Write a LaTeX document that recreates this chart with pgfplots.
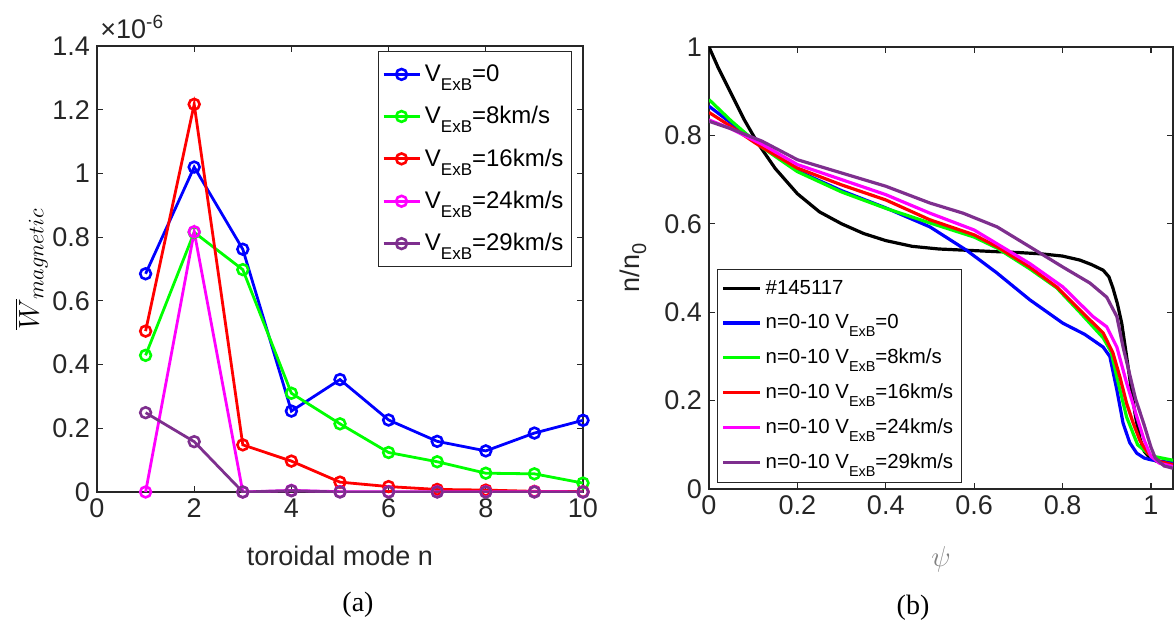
\documentclass[border=0pt]{standalone}
\usepackage{fontspec}
\setmainfont{Liberation Sans}
\newfontfamily\seriffont{Liberation Serif}
\usepackage{pgfplots}
\pgfplotsset{compat=1.18}
\usepackage{pgfplotstable}

\definecolor{mblue}{rgb}{0,0,1}
\definecolor{mgreen}{rgb}{0,1,0}
\definecolor{mred}{rgb}{1,0,0}
\definecolor{mmag}{rgb}{1,0,1}
\definecolor{mpurple}{rgb}{0.494,0.184,0.556}
\definecolor{axgray}{rgb}{0.15,0.15,0.15}

\newcommand{\subA}[1]{\raisebox{-4.5pt}{\fontsize{8.5}{8.5}\selectfont #1}}
\newcommand{\subB}[1]{\raisebox{-3.8pt}{\fontsize{7.2}{7.2}\selectfont #1}}

% panel (b) profiles
\pgfplotstableread{
x y
0 1.000
0.02 0.955
0.05 0.895
0.08 0.835
0.11 0.783
0.15 0.725
0.2 0.668
0.25 0.627
0.3 0.600
0.35 0.578
0.4 0.562
0.46 0.549
0.52 0.543
0.585 0.540
0.65 0.537
0.7 0.535
0.752 0.532
0.8 0.527
0.839 0.518
0.865 0.508
0.892 0.495
0.905 0.480
0.914 0.455
0.924 0.420
0.934 0.375
0.945 0.300
0.955 0.230
0.965 0.165
0.975 0.115
0.985 0.085
1.0 0.068
1.02 0.060
1.05 0.055
}\tblack
\pgfplotstableread{
x y
0 0.866
0.05 0.828
0.1 0.790
0.12 0.775
0.2 0.720
0.3 0.675
0.4 0.636
0.5 0.593
0.583 0.540
0.65 0.490
0.726 0.428
0.801 0.375
0.85 0.350
0.892 0.321
0.907 0.300
0.923 0.224
0.937 0.149
0.952 0.105
0.968 0.081
0.985 0.070
1.0 0.066
1.05 0.059
}\tblue
\pgfplotstableread{
x y
0 0.881
0.05 0.833
0.1 0.790
0.12 0.773
0.2 0.718
0.3 0.672
0.4 0.635
0.5 0.602
0.6 0.570
0.652 0.545
0.726 0.498
0.787 0.455
0.839 0.400
0.892 0.342
0.91 0.310
0.923 0.253
0.945 0.163
0.97 0.100
1.0 0.075
1.05 0.065
}\tgreen
\pgfplotstableread{
x y
0 0.852
0.05 0.820
0.1 0.786
0.12 0.773
0.2 0.726
0.3 0.688
0.4 0.654
0.5 0.609
0.6 0.575
0.652 0.548
0.726 0.502
0.787 0.457
0.839 0.405
0.892 0.353
0.914 0.308
0.93 0.253
0.945 0.194
0.96 0.149
0.975 0.110
0.993 0.081
1.02 0.062
1.05 0.055
}\tred
\pgfplotstableread{
x y
0 0.835
0.05 0.815
0.1 0.790
0.12 0.780
0.2 0.734
0.3 0.700
0.4 0.666
0.5 0.624
0.6 0.586
0.726 0.510
0.801 0.457
0.869 0.390
0.9 0.367
0.923 0.321
0.945 0.240
0.968 0.164
0.985 0.110
1.0 0.074
1.02 0.058
1.05 0.051
}\tmag
\pgfplotstableread{
x y
0 0.832
0.05 0.815
0.1 0.795
0.12 0.787
0.2 0.745
0.3 0.715
0.4 0.685
0.5 0.647
0.575 0.624
0.652 0.593
0.726 0.548
0.801 0.502
0.862 0.466
0.9 0.434
0.923 0.390
0.937 0.321
0.948 0.276
0.965 0.205
0.985 0.144
1.0 0.095
1.01 0.070
1.03 0.052
1.05 0.047
}\tpurple

\pgfplotsset{
  mstyle/.style={
    scale only axis,
    axis line style={axgray, line width=0.6pt},
    every tick/.style={axgray, line width=0.6pt},
    tick align=inside,
    major tick length=3pt,
    tick label style={font=\fontsize{13.5}{13.5}\selectfont, text=axgray},
    /pgf/number format/assume math mode=true,
    /pgf/number format/fixed,
    label style={font=\fontsize{13.5}{13.5}\selectfont, text=axgray},
    legend cell align=left,
  }
}

\begin{document}
\begin{tikzpicture}
\useasboundingbox (0,0) rectangle (587.5pt,-313pt);

% ---------------- panel (a)
\begin{axis}[mstyle, name=axA,
  at={(48.5pt,-23pt)}, anchor=north west,
  width=243pt, height=223pt,
  xmin=0, xmax=10, ymin=0, ymax=1.4,
  xtick={0,2,4,6,8,10},
  ytick={0,0.2,0.4,0.6,0.8,1,1.2,1.4},
  scaled y ticks=false,
  xlabel={toroidal mode n},
  xlabel style={at={(axis description cs:0.5,-0.1435)}, anchor=center},
  ylabel={\fontsize{15}{15}\selectfont$\overline{W}_{magnetic}$},
  ylabel style={at={(axis description cs:-0.135,0.5)}, anchor=center, text=black},
  legend style={at={(1,1)}, anchor=north east, xshift=-5.5pt, yshift=-2.5pt,
    draw=axgray, line width=0.5pt, font=\fontsize{12}{12}\selectfont,
    row sep=7pt, inner xsep=2pt, inner ysep=4.5pt},
  legend image code/.code={\draw[mark repeat=2,mark phase=2,#1] plot coordinates {(0pt,0pt) (9pt,0pt) (18pt,0pt)};},
  every axis plot/.append style={line width=1.4pt, mark=o, mark size=2.7pt, mark options={solid, line width=1.3pt}},
]
\addplot[color=mblue] coordinates {(1,0.685) (2,1.020) (3,0.762) (4,0.254) (5,0.353) (6,0.226) (7,0.159) (8,0.129) (9,0.185) (10,0.225)};
\addlegendentry{V\subA{ExB}=0}
\addplot[color=mgreen] coordinates {(1,0.429) (2,0.815) (3,0.698) (4,0.310) (5,0.214) (6,0.124) (7,0.095) (8,0.059) (9,0.057) (10,0.028)};
\addlegendentry{V\subA{ExB}=8km/s}
\addplot[color=mred] coordinates {(1,0.505) (2,1.217) (3,0.148) (4,0.097) (5,0.031) (6,0.017) (7,0.008) (8,0.006) (9,0.002) (10,0.001)};
\addlegendentry{V\subA{ExB}=16km/s}
\addplot[color=mmag] coordinates {(1,0) (2,0.817) (3,0) (4,0.005) (5,0.001) (6,0.001) (7,0.001) (8,0.001) (9,0.001) (10,0)};
\addlegendentry{V\subA{ExB}=24km/s}
\addplot[color=mpurple] coordinates {(1,0.249) (2,0.158) (3,0) (4,0.004) (5,0) (6,0) (7,0) (8,0) (9,0) (10,0)};
\addlegendentry{V\subA{ExB}=29km/s}
\end{axis}
\node[anchor=base west, inner sep=0pt, text=axgray, font=\fontsize{13.5}{13.5}\selectfont] at ([xshift=1.5pt, yshift=3.5pt]axA.north west) {×10\raisebox{5pt}{\fontsize{9.5}{9.5}\selectfont -6}};

% ---------------- panel (b)
\begin{axis}[mstyle,
  at={(354.5pt,-23.5pt)}, anchor=north west,
  width=232pt, height=221pt,
  xmin=0, xmax=1.05, ymin=0, ymax=1,
  xtick={0,0.2,0.4,0.6,0.8,1},
  ytick={0,0.2,0.4,0.6,0.8,1},
  xlabel={\fontsize{15}{15}\selectfont$\psi$},
  xlabel style={at={(axis description cs:0.5,-0.16)}, anchor=center, text=gray},
  ylabel={n/n\raisebox{-3.5pt}{\fontsize{10}{10}\selectfont 0}},
  ylabel style={at={(axis description cs:-0.164,0.5)}, anchor=center},
  legend style={at={(0,0)}, anchor=south west, xshift=4pt, yshift=3pt,
    draw=axgray, line width=0.5pt, font=\fontsize{10.2}{10.2}\selectfont,
    row sep=4.6pt, inner xsep=2pt, inner ysep=3.5pt},
  legend image code/.code={\draw[#1] (0pt,0pt) -- (18.5pt,0pt);},
  every axis plot/.append style={line width=1.6pt, no marks},
]
\addplot[color=black] table {\tblack};
\addlegendentry{\#145117}
\addplot[color=mblue] table {\tblue};
\addlegendentry{n=0-10 V\subB{ExB}=0}
\addplot[color=mgreen] table {\tgreen};
\addlegendentry{n=0-10 V\subB{ExB}=8km/s}
\addplot[color=mred] table {\tred};
\addlegendentry{n=0-10 V\subB{ExB}=16km/s}
\addplot[color=mmag] table {\tmag};
\addlegendentry{n=0-10 V\subB{ExB}=24km/s}
\addplot[color=mpurple] table {\tpurple};
\addlegendentry{n=0-10 V\subB{ExB}=29km/s}
\end{axis}

\node[font=\seriffont\fontsize{14}{14}\selectfont] at (179pt,-302.5pt) {(a)};
\node[font=\seriffont\fontsize{14}{14}\selectfont] at (456.5pt,-304pt) {(b)};
\end{tikzpicture}
\end{document}
